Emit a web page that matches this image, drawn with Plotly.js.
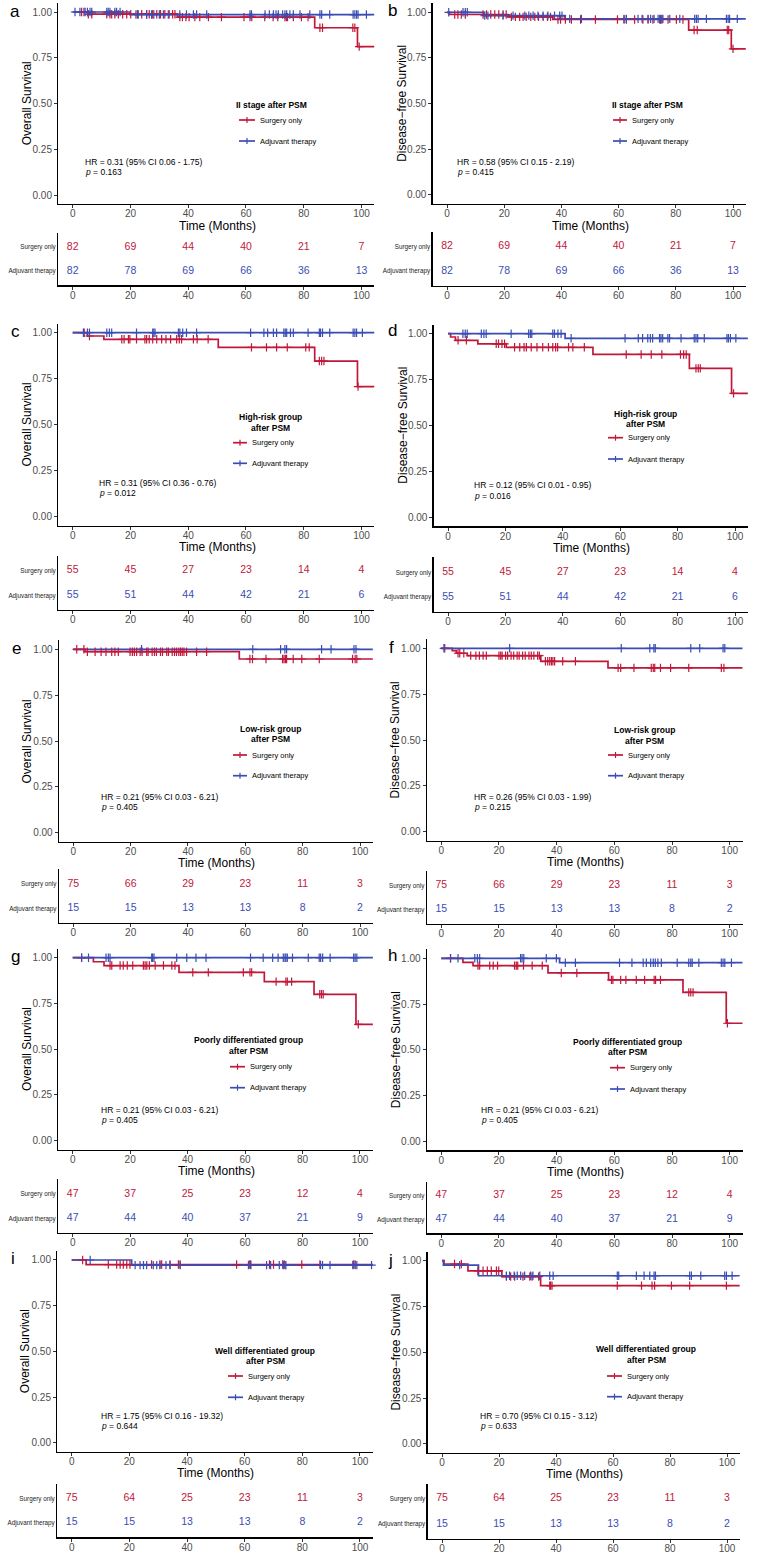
<!DOCTYPE html>
<html><head><meta charset="utf-8">
<script src="https://cdn.plot.ly/plotly-3.0.1.min.js"></script>
<style>html,body{margin:0;padding:0;background:#fff}#chart{width:758px;height:1553px}</style>
</head><body><div id="chart"></div>
<script>
// ================= DATA =================
const riskTimes = [0, 20, 40, 60, 80, 100];
const xTickVals = [0, 20, 40, 60, 80, 100];
const yTickVals = [0, 0.25, 0.5, 0.75, 1];
const yTickText = ['0.00', '0.25', '0.50', '0.75', '1.00'];
const groupNames = ['Surgery only', 'Adjuvant therapy'];
const followUpEnd = 104.5;

// a: OS, II stage
const a_surgTime = [5.1, 36.3, 83.8, 98.6];
const a_surgSurv = [0.988, 0.972, 0.914, 0.811];
const a_surgCens = [3.1, 3.9, 5.4, 6.6, 11.8, 12.9, 13.5, 14.6, 15.8, 17.3, 18.7, 20.1, 22.4, 23.9, 25.6, 26.5, 27.7, 29.1, 30.4, 31.9, 33.4, 34.6, 35.4, 37.1, 38.0, 39.2, 40.3, 42.3, 44.0, 47.0, 51.5, 59.3, 61.4, 62.0, 66.5, 69.4, 71.0, 73.5, 74.0, 74.4, 76.4, 79.2, 81.5, 85.6, 86.5, 97.0, 97.7, 99.2];
const a_adjTime = [19.8];
const a_adjSurv = [0.986];
const a_adjCens = [0.8, 2.5, 4.3, 5.1, 6.0, 6.6, 11.8, 12.3, 12.9, 14.6, 15.2, 16.4, 21.9, 22.7, 25.6, 27.3, 28.1, 30.0, 31.4, 33.1, 37.1, 39.4, 41.8, 42.9, 46.4, 61.4, 61.9, 66.6, 68.1, 69.5, 70.4, 71.2, 72.7, 73.5, 74.1, 75.2, 76.4, 78.7, 82.1, 85.6, 86.2, 89.0, 97.1, 97.7, 98.3, 98.8, 101.7];
const a_riskSurg = [82, 69, 44, 40, 21, 7];
const a_riskAdj = [82, 78, 69, 66, 36, 13];

// b: DFS, II stage
const b_surgTime = [0.9, 21.3, 37.0, 84.5, 99.4];
const b_surgSurv = [0.988, 0.975, 0.961, 0.903, 0.800];
const b_surgCens = [2.7, 3.8, 5.0, 6.4, 12.6, 13.8, 15.3, 16.7, 18.1, 19.6, 20.7, 22.5, 23.9, 25.4, 26.6, 27.7, 29.3, 30.7, 32.0, 33.6, 35.1, 36.2, 38.8, 39.7, 41.4, 43.5, 46.7, 51.9, 59.6, 61.9, 62.7, 65.6, 68.5, 70.3, 72.0, 74.4, 74.7, 75.2, 77.3, 80.2, 82.5, 86.4, 87.5, 98.0, 98.5, 100.0];
const b_adjTime = [12.9, 41.1];
const b_adjSurv = [0.982, 0.964];
const b_adjCens = [0.6, 5.6, 6.4, 7.1, 13.2, 14.3, 19.6, 23.1, 27.2, 28.6, 30.1, 31.8, 33.6, 35.3, 37.6, 39.4, 40.2, 42.9, 47.0, 61.9, 62.7, 66.8, 68.2, 70.3, 71.2, 72.4, 73.8, 74.4, 74.9, 75.5, 77.9, 81.4, 86.6, 87.2, 87.8, 90.7, 97.7, 98.3, 98.8, 101.5];
const b_riskSurg = [82, 69, 44, 40, 21, 7];
const b_riskAdj = [82, 78, 69, 66, 36, 13];

// c: OS, high-risk
const c_surgTime = [5.1, 10.8, 50.4, 83.8, 98.6];
const c_surgSurv = [0.982, 0.964, 0.920, 0.846, 0.707];
const c_surgCens = [4.0, 5.8, 17.0, 17.8, 19.3, 19.8, 22.1, 25.0, 25.6, 26.5, 27.7, 29.1, 30.8, 32.3, 33.9, 36.0, 36.9, 37.7, 41.8, 43.1, 46.9, 61.9, 67.1, 70.6, 74.3, 80.7, 81.9, 85.4, 86.2, 87.0, 98.8];
const c_adjTime = [];
const c_adjSurv = [];
const c_adjCens = [3.7, 5.1, 5.8, 11.8, 12.7, 13.5, 22.1, 27.7, 28.1, 28.5, 36.6, 37.1, 38.1, 39.4, 42.9, 61.6, 66.2, 67.5, 69.5, 70.6, 73.1, 73.6, 74.1, 75.4, 76.4, 81.5, 85.4, 85.8, 86.5, 89.0, 97.1, 97.7, 98.3, 100.3];
const c_riskSurg = [55, 45, 27, 23, 14, 4];
const c_riskAdj = [55, 51, 44, 42, 21, 6];

// d: DFS, high-risk
const d_surgTime = [0.9, 2.6, 10.4, 20.3, 50.5, 84.1, 98.8];
const d_surgSurv = [0.982, 0.964, 0.945, 0.926, 0.887, 0.811, 0.675];
const d_surgCens = [3.5, 6.4, 16.8, 17.6, 18.8, 19.7, 23.2, 25.0, 26.5, 27.3, 29.0, 31.0, 33.0, 35.0, 36.5, 37.5, 38.2, 42.0, 43.5, 47.5, 62.1, 67.3, 70.8, 74.5, 81.0, 82.1, 83.0, 86.4, 87.2, 87.9, 99.5];
const d_adjTime = [40.8];
const d_adjSurv = [0.975];
const d_adjCens = [5.2, 6.0, 6.7, 11.6, 12.5, 13.3, 22.0, 28.1, 28.7, 29.2, 36.5, 37.1, 38.3, 39.4, 42.9, 61.7, 66.3, 67.8, 69.6, 70.5, 71.3, 73.7, 74.2, 74.8, 76.6, 77.2, 81.2, 85.8, 86.4, 87.0, 89.3, 97.2, 97.7, 98.4, 100.3];
const d_riskSurg = [55, 45, 27, 23, 14, 4];
const d_riskAdj = [55, 51, 44, 42, 21, 6];

// e: OS, low-risk
const e_surgTime = [4.1, 57.9];
const e_surgSurv = [0.987, 0.947];
const e_surgCens = [1.2, 3.7, 4.9, 7.6, 9.7, 11.4, 13.4, 14.5, 15.7, 19.8, 20.6, 21.3, 22.1, 23.3, 24.0, 25.6, 26.1, 27.5, 28.3, 29.0, 30.4, 31.1, 32.6, 33.2, 34.5, 35.3, 36.0, 36.8, 37.4, 38.0, 38.6, 39.5, 43.0, 46.5, 61.6, 62.5, 67.2, 73.0, 73.5, 74.0, 74.4, 76.7, 79.7, 85.8, 97.4, 98.3, 98.9];
const e_adjTime = [];
const e_adjSurv = [];
const e_adjCens = [23.8, 62.6, 72.3, 73.8, 74.4, 86.6, 89.9, 97.9, 98.6];
const e_riskSurg = [75, 66, 29, 23, 11, 3];
const e_riskAdj = [15, 15, 13, 13, 8, 2];

// f: DFS, low-risk
const f_surgTime = [3.8, 5.2, 9.0, 34.5, 57.8];
const f_surgSurv = [0.987, 0.973, 0.960, 0.929, 0.893];
const f_surgCens = [1.2, 5.8, 6.4, 7.8, 10.2, 12.0, 13.2, 14.5, 15.6, 20.0, 20.6, 21.1, 22.3, 23.0, 24.2, 25.1, 26.3, 27.0, 28.2, 29.1, 30.4, 31.2, 32.1, 33.4, 34.0, 36.1, 36.9, 37.6, 38.2, 38.7, 39.3, 42.1, 46.5, 61.3, 62.2, 66.8, 72.8, 73.5, 74.0, 76.0, 79.5, 85.8, 97.1, 98.0];
const f_adjTime = [];
const f_adjSurv = [];
const f_adjCens = [0.9, 23.7, 62.4, 72.3, 73.7, 74.2, 86.5, 89.6, 97.7, 98.3];
const f_riskSurg = [75, 66, 29, 23, 11, 3];
const f_riskAdj = [15, 15, 13, 13, 8, 2];

// g: OS, poorly differentiated
const g_surgTime = [7.2, 10.9, 37.0, 66.7, 84.0, 98.6];
const g_surgSurv = [0.978, 0.957, 0.920, 0.869, 0.800, 0.636];
const g_surgCens = [3.1, 13.0, 13.6, 16.5, 17.6, 19.0, 20.9, 24.6, 25.2, 25.8, 26.7, 28.7, 31.6, 34.5, 35.6, 41.8, 47.2, 59.4, 61.7, 62.3, 70.8, 74.2, 74.7, 76.2, 86.0, 86.6, 87.2, 99.4];
const g_adjTime = [];
const g_adjSurv = [];
const g_adjCens = [3.1, 5.5, 11.6, 12.4, 13.0, 27.5, 27.8, 28.3, 36.2, 39.7, 42.9, 46.4, 61.9, 66.3, 69.6, 71.5, 73.3, 73.9, 74.2, 74.7, 76.5, 82.0, 85.8, 86.3, 87.0, 89.6, 97.8, 98.3, 98.9];
const g_riskSurg = [47, 37, 25, 23, 12, 4];
const g_riskAdj = [47, 44, 40, 37, 21, 9];

// h: DFS, poorly differentiated
const h_surgTime = [7.5, 11.0, 37.0, 58.0, 83.8, 98.8];
const h_surgSurv = [0.978, 0.960, 0.920, 0.882, 0.814, 0.645];
const h_surgCens = [3.2, 12.7, 13.3, 16.8, 18.0, 19.5, 25.4, 26.0, 26.5, 28.5, 31.5, 35.0, 41.6, 47.0, 59.0, 59.5, 62.2, 64.0, 67.6, 70.5, 73.8, 74.3, 76.0, 85.8, 86.5, 87.3, 99.2];
const h_adjTime = [41.0];
const h_adjSurv = [0.976];
const h_adjCens = [3.2, 5.8, 11.6, 12.5, 13.3, 27.5, 28.0, 28.6, 36.4, 39.9, 43.0, 46.5, 61.8, 66.1, 70.0, 71.1, 72.6, 73.5, 74.2, 75.1, 76.3, 81.8, 85.8, 86.5, 87.0, 89.3, 97.1, 97.7, 98.3, 100.6];
const h_riskSurg = [47, 37, 25, 23, 12, 4];
const h_riskAdj = [47, 44, 40, 37, 21, 9];

// i: OS, well differentiated
const i_surgTime = [5.0];
const i_surgSurv = [0.975];
const i_surgCens = [3.8, 12.7, 15.6, 16.8, 17.9, 19.1, 20.2, 27.7, 30.6, 31.2, 34.1, 37.0, 37.6, 57.2, 61.6, 62.1, 68.6, 70.0, 73.2, 73.7, 79.8, 86.1, 97.7, 98.3];
const i_adjTime = [20.8];
const i_adjSurv = [0.972];
const i_adjCens = [6.4, 22.0, 23.7, 24.9, 26.0, 28.3, 29.5, 30.6, 32.7, 34.1, 37.6, 61.3, 62.1, 67.6, 69.0, 72.0, 73.4, 74.0, 74.3, 86.3, 87.0, 89.6, 97.5, 98.3, 98.9, 104.0];
const i_riskSurg = [75, 64, 25, 23, 11, 3];
const i_riskAdj = [15, 15, 13, 13, 8, 2];

// j: DFS, well differentiated
const j_surgTime = [0.7, 9.1, 21.0, 34.6];
const j_surgSurv = [0.982, 0.945, 0.913, 0.864];
const j_surgCens = [4.4, 6.8, 12.6, 14.4, 15.9, 17.3, 19.1, 19.9, 22.6, 24.1, 25.5, 28.4, 30.8, 31.6, 33.9, 37.8, 38.1, 38.6, 61.5, 70.0, 73.7, 74.6, 80.5, 86.9, 99.8];
const j_adjTime = [0.5, 12.8];
const j_adjSurv = [0.976, 0.918];
const j_adjCens = [6.2, 22.6, 23.7, 25.3, 26.4, 27.6, 29.0, 31.1, 31.9, 34.3, 37.8, 39.0, 61.5, 62.0, 68.2, 70.9, 72.9, 74.4, 74.9, 86.9, 87.5, 90.8, 99.2, 99.8, 101.8];
const j_riskSurg = [75, 64, 25, 23, 11, 3];
const j_riskAdj = [15, 15, 13, 13, 8, 2];

// text labels
const letters = ['a','b','c','d','e','f','g','h','i','j'];
const yTitles = ['Overall Survival','Disease\u2212free Survival','Overall Survival','Disease\u2212free Survival','Overall Survival','Disease\u2212free Survival','Overall Survival','Disease\u2212free Survival','Overall Survival','Disease\u2212free Survival'];
const groupTitles = [
  ['II stage after PSM'], ['II stage after PSM'],
  ['High-risk group','after PSM'], ['High-risk group','after PSM'],
  ['Low-risk group','after PSM'], ['Low-risk group','after PSM'],
  ['Poorly differentiated group','after PSM'], ['Poorly differentiated group','after PSM'],
  ['Well differentiated group','after PSM'], ['Well differentiated group','after PSM']
];
const hrTexts = [
  'HR = 0.31 (95% CI 0.06 - 1.75)', 'HR = 0.58 (95% CI 0.15 - 2.19)',
  'HR = 0.31 (95% CI 0.36 - 0.76)', 'HR = 0.12 (95% CI 0.01 - 0.95)',
  'HR = 0.21 (95% CI 0.03 - 6.21)', 'HR = 0.26 (95% CI 0.03 - 1.99)',
  'HR = 0.21 (95% CI 0.03 - 6.21)', 'HR = 0.21 (95% CI 0.03 - 6.21)',
  'HR = 1.75 (95% CI 0.16 - 19.32)', 'HR = 0.70 (95% CI 0.15 - 3.12)'
];
const pValues = ['0.163','0.415','0.012','0.016','0.405','0.215','0.405','0.405','0.644','0.633'];

// ================= LAYOUT GEOMETRY (pixels) =================
const geom = [
 {t0:72.7,t100:361.5,y1:12.0,y0:195.0,rs:247.0,ra:271.0,xt:226.0,lx:15,ly:11,tcx:271.7,ty:[105.3],gx0:239,gx1:255,iy:[120.0,141.0],hx:82.7,hy:[161.7,171.7]},
 {t0:447.0,t100:733.0,y1:12.3,y0:195.0,rs:246.7,ra:271.0,xt:226.0,lx:392,ly:10,tcx:647.3,ty:[105.3],gx0:613,gx1:627,iy:[120.0,141.0],hx:455.3,hy:[161.7,171.7]},
 {t0:72.7,t100:361.5,y1:332.7,y0:516.7,rs:570.7,ra:595.3,xt:546.7,lx:15,ly:331,tcx:270.7,ty:[417.3,427.7],gx0:233,gx1:247,iy:[442.7,463.3],hx:96.7,hy:[483.3,493.3]},
 {t0:448.0,t100:735.0,y1:333.7,y0:517.3,rs:572.3,ra:597.0,xt:547.7,lx:392,ly:330,tcx:645.3,ty:[414.0,424.3],gx0:608,gx1:623,iy:[437.7,459.0],hx:472.3,hy:[485.0,495.7]},
 {t0:73.3,t100:360.0,y1:649.3,y0:832.7,rs:884.0,ra:908.3,xt:862.7,lx:16,ly:648.5,tcx:270.7,ty:[729.3,739.3],gx0:233,gx1:247,iy:[755.0,775.7],hx:99.3,hy:[796.7,807.3]},
 {t0:441.3,t100:729.7,y1:648.3,y0:831.7,rs:885.3,ra:909.3,xt:861.7,lx:391,ly:647.5,tcx:644.7,ty:[730.0,740.7],gx0:608,gx1:623,iy:[755.0,775.7],hx:472.3,hy:[796.7,807.3]},
 {t0:72.7,t100:360.0,y1:957.7,y0:1140.7,rs:1194.0,ra:1218.3,xt:1171.0,lx:15,ly:956,tcx:248.3,ty:[1040.0,1050.7],gx0:230,gx1:245,iy:[1066.7,1087.7],hx:99.3,hy:[1110.0,1120.0]},
 {t0:441.3,t100:729.7,y1:958.3,y0:1141.3,rs:1195.7,ra:1219.3,xt:1171.7,lx:392,ly:955.5,tcx:627.3,ty:[1041.7,1052.0],gx0:610,gx1:625,iy:[1067.7,1089.0],hx:478.7,hy:[1110.0,1120.0]},
 {t0:71.7,t100:360.0,y1:1260.0,y0:1442.7,rs:1498.3,ra:1522.7,xt:1473.3,lx:13,ly:1258,tcx:265.0,ty:[1350.7,1361.3],gx0:228,gx1:243,iy:[1376.0,1397.3],hx:99.3,hy:[1415.7,1426.0]},
 {t0:442.0,t100:727.0,y1:1260.7,y0:1444.0,rs:1498.7,ra:1524.0,xt:1474.3,lx:390,ly:1260,tcx:646.3,ty:[1349.3,1360.0],gx0:607,gx1:622,iy:[1376.0,1396.7],hx:478.0,hy:[1415.7,1426.0]}
];

// ================= BUILD =================
const W = 758, H = 1553;
const PX = v => v / W, PY = v => 1 - v / H;
const RED = '#C0183A', BLUE = '#3A4DB5';
const FONT = 'Liberation Sans, Arial, Helvetica, sans-serif';
const XMIN = -5, XMAX = 104.5;

const series = [
 [a_surgTime,a_surgSurv,a_surgCens,a_adjTime,a_adjSurv,a_adjCens,a_riskSurg,a_riskAdj],
 [b_surgTime,b_surgSurv,b_surgCens,b_adjTime,b_adjSurv,b_adjCens,b_riskSurg,b_riskAdj],
 [c_surgTime,c_surgSurv,c_surgCens,c_adjTime,c_adjSurv,c_adjCens,c_riskSurg,c_riskAdj],
 [d_surgTime,d_surgSurv,d_surgCens,d_adjTime,d_adjSurv,d_adjCens,d_riskSurg,d_riskAdj],
 [e_surgTime,e_surgSurv,e_surgCens,e_adjTime,e_adjSurv,e_adjCens,e_riskSurg,e_riskAdj],
 [f_surgTime,f_surgSurv,f_surgCens,f_adjTime,f_adjSurv,f_adjCens,f_riskSurg,f_riskAdj],
 [g_surgTime,g_surgSurv,g_surgCens,g_adjTime,g_adjSurv,g_adjCens,g_riskSurg,g_riskAdj],
 [h_surgTime,h_surgSurv,h_surgCens,h_adjTime,h_adjSurv,h_adjCens,h_riskSurg,h_riskAdj],
 [i_surgTime,i_surgSurv,i_surgCens,i_adjTime,i_adjSurv,i_adjCens,i_riskSurg,i_riskAdj],
 [j_surgTime,j_surgSurv,j_surgCens,j_adjTime,j_adjSurv,j_adjCens,j_riskSurg,j_riskAdj]
];

function stepXY(times, surv, end) {
  const x = [0], y = [1];
  times.forEach((t, k) => { x.push(t); y.push(surv[k]); });
  x.push(end); y.push(surv.length ? surv[surv.length - 1] : 1);
  return {x, y};
}
function survAt(times, surv, t) {
  let s = 1;
  for (let k = 0; k < times.length; k++) if (times[k] <= t) s = surv[k];
  return s;
}

const traces = [], annotations = [], shapes = [];
const layout = {
  width: W, height: H, margin: {l:0, r:0, t:0, b:0},
  paper_bgcolor: '#fff', plot_bgcolor: '#fff', showlegend: false,
  font: {family: FONT, color: '#000'}
};

function ann(text, x, y, size, opts) {
  annotations.push(Object.assign({
    text, xref:'paper', yref:'paper', x: PX(x), y: PY(y), showarrow:false,
    xanchor:'center', yanchor:'middle', font:{family:FONT, size, color:'#000'}
  }, opts || {}));
}

geom.forEach((g, k) => {
  const [sT, sS, sC, aT, aS, aC, rS, rA] = series[k];
  const m = 2*k + 1, n = 2*k + 2;
  const xm = m === 1 ? 'x' : 'x' + m, ym = m === 1 ? 'y' : 'y' + m;
  const xn = 'x' + n, yn = 'y' + n;
  const s = (g.t100 - g.t0) / 100;
  const L = g.t0 + XMIN * s, R = g.t0 + XMAX * s;
  const sy = g.y0 - g.y1;
  const T = g.y1 - 0.05 * sy, B = g.y0 + 0.05 * sy;
  const dr = g.ra - g.rs;
  const TT = g.rs - 0.6 * dr, TB = g.ra + 0.6 * dr;

  const axisCommon = {
    showline:true, linecolor:'#000', linewidth:1.3, mirror:false,
    showgrid:false, zeroline:false, ticks:'outside', ticklen:3, tickwidth:1, tickcolor:'#333',
    tickfont:{family:FONT, size:10, color:'#4d4d4d'}, automargin:false, fixedrange:true
  };
  layout[m === 1 ? 'xaxis' : 'xaxis' + m] = Object.assign({}, axisCommon, {
    domain:[PX(L), PX(R)], range:[XMIN, XMAX], anchor: ym, tickvals: xTickVals, ticklabelstandoff: -3
  });
  layout[m === 1 ? 'yaxis' : 'yaxis' + m] = Object.assign({}, axisCommon, {
    domain:[PY(B), PY(T)], range:[-0.05, 1.05], anchor: xm, tickvals: yTickVals, ticktext: yTickText
  });
  layout['xaxis' + n] = Object.assign({}, axisCommon, {
    domain:[PX(L), PX(R)], range:[XMIN, XMAX], anchor: yn, tickvals: xTickVals, ticklabelstandoff: -3
  });
  layout['yaxis' + n] = Object.assign({}, axisCommon, {
    domain:[PY(TB), PY(TT)], range:[0.4, 2.6], anchor: xn, tickvals:[1, 2],
    ticktext:[groupNames[1], groupNames[0]], ticks:'', ticklen:0,
    tickfont:{family:FONT, size:6.3, color:'#1a1a1a'}
  });

  // curves
  const sc = stepXY(sT, sS, followUpEnd), ac = stepXY(aT, aS, followUpEnd);
  traces.push({type:'scatter', mode:'lines', x:sc.x, y:sc.y, xaxis:xm, yaxis:ym,
    line:{shape:'hv', color:RED, width:1.7}, hoverinfo:'skip', name:groupNames[0]});
  traces.push({type:'scatter', mode:'lines', x:ac.x, y:ac.y, xaxis:xm, yaxis:ym,
    line:{shape:'hv', color:BLUE, width:1.7}, hoverinfo:'skip', name:groupNames[1]});
  traces.push({type:'scatter', mode:'markers', x:sC, y:sC.map(t => survAt(sT, sS, t)), xaxis:xm, yaxis:ym,
    marker:{symbol:'cross-thin', size:6, color:RED, line:{color:RED, width:1.2}}, hoverinfo:'skip', cliponaxis:false});
  traces.push({type:'scatter', mode:'markers', x:aC, y:aC.map(t => survAt(aT, aS, t)), xaxis:xm, yaxis:ym,
    marker:{symbol:'cross-thin', size:6, color:BLUE, line:{color:BLUE, width:1.2}}, hoverinfo:'skip', cliponaxis:false});
  // risk table
  traces.push({type:'scatter', mode:'text', x:riskTimes, y:riskTimes.map(() => 2), text:rS.map(String),
    xaxis:xn, yaxis:yn, textfont:{family:FONT, size:10.5, color:RED}, hoverinfo:'skip', cliponaxis:false});
  traces.push({type:'scatter', mode:'text', x:riskTimes, y:riskTimes.map(() => 1), text:rA.map(String),
    xaxis:xn, yaxis:yn, textfont:{family:FONT, size:10.5, color:BLUE}, hoverinfo:'skip', cliponaxis:false});

  // texts
  ann(letters[k], g.lx, g.ly, 17);
  ann(yTitles[k], L - 31.5, (g.y1 + g.y0) / 2, 12, {textangle:-90});
  ann('Time (Months)', (g.t0 + g.t100) / 2, g.xt, 12);
  ann(hrTexts[k], g.hx, g.hy[0], 8.5, {xanchor:'left'});
  ann('<i>p</i> = ' + pValues[k], g.hx, g.hy[1], 8.5, {xanchor:'left'});
  groupTitles[k].forEach((line, q) => ann('<b>' + line + '</b>', g.tcx, g.ty[q], 8.5));
  [RED, BLUE].forEach((col, q) => {
    const yy = PY(g.iy[q]);
    shapes.push({type:'line', xref:'paper', yref:'paper', x0:PX(g.gx0), x1:PX(g.gx1), y0:yy, y1:yy,
      line:{color:col, width:1.7}});
    const cx = PX((g.gx0 + g.gx1) / 2);
    shapes.push({type:'line', xref:'paper', yref:'paper', x0:cx, x1:cx, y0:PY(g.iy[q] - 3), y1:PY(g.iy[q] + 3),
      line:{color:col, width:1.2}});
    ann(groupNames[q], g.gx1 + 3, g.iy[q], 7.5, {xanchor:'left'});
  });
});

layout.annotations = annotations;
layout.shapes = shapes;
Plotly.newPlot('chart', traces, layout, {displayModeBar:false, staticPlot:true});
</script>
</body></html>
